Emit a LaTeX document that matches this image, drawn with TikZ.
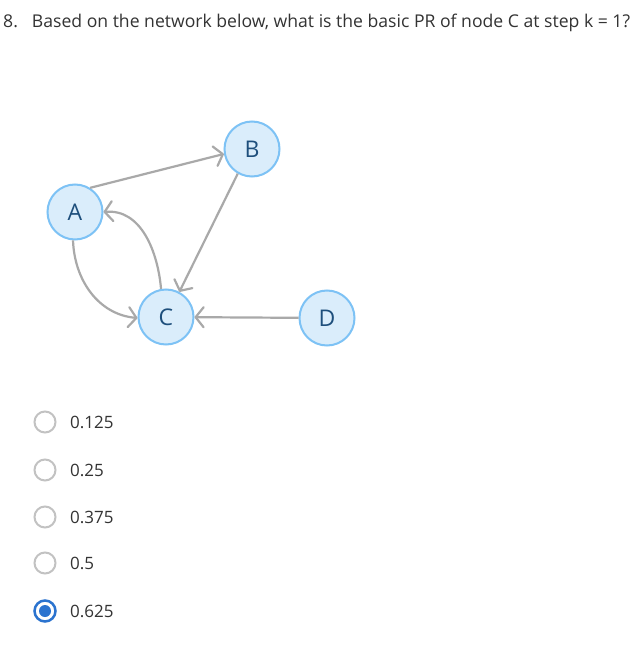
\documentclass[tikz,border=0pt]{standalone}
\usepackage{fontspec}
\setmainfont{Open Sans}
\usetikzlibrary{arrows.meta}
\definecolor{txt}{HTML}{333333}
\definecolor{edgegray}{HTML}{A9A9A9}
\definecolor{nodefill}{HTML}{DAEDFB}
\definecolor{nodeborder}{HTML}{7DC2F5}
\definecolor{nodetext}{HTML}{1E4F7C}
\definecolor{radiogray}{HTML}{C2C2C2}
\definecolor{radioblue}{HTML}{2B73CF}
\begin{document}
\begin{tikzpicture}[x=1pt,y=1pt,
  gnode/.style={circle,draw=nodeborder,fill=nodefill,line width=2pt,minimum size=55pt,inner sep=0pt,text=nodetext,font=\fontsize{23}{23}\selectfont},
  gedge/.style={draw=edgegray,line width=2.2pt,-{Straight Barb[length=8pt,width=20pt,round]}},
  radio/.style={circle,draw=radiogray,line width=2pt,minimum size=21pt,inner sep=0pt},
  radiosel/.style={circle,draw=radioblue,line width=2.5pt,minimum size=21pt,inner sep=0pt},
  opt/.style={anchor=west,inner sep=0pt,text=txt,font=\fontsize{17}{17}\selectfont}]
\useasboundingbox (0,0) rectangle (642,-652);
\fill[white] (0,0) rectangle (642,-652);
\node[anchor=base west,inner sep=0pt,text=txt,font=\fontsize{17.6}{17.6}\selectfont] (q) at (3,-28) {8.\hspace{14pt}Based on the network below, what is the basic PR of node C at step k = 1?};
\node[gnode] (A) at (75,-212) {A};
\node[gnode] (B) at (252,-149) {B};
\node[gnode] (C) at (166,-317) {C};
\node[gnode] (D) at (327,-318) {D};
\draw[gedge] (A.58) -- (B.190);
\draw[gedge] (B.240) -- (C.62);
\draw[gedge] (D) -- (C);
\draw[gedge] (C.100) to[out=95,in=5] (A.0);
\draw[gedge] (A.266) to[out=-88,in=175] (C.182);
\node[radio] (r1) at (45,-422) {};
\node[radio] (r2) at (45,-470) {};
\node[radio] (r3) at (45,-517) {};
\node[radio] (r4) at (45,-563) {};
\node[radiosel] (r5) at (45,-611) {};
\fill[radioblue] (r5.center) circle (6pt);
\node[opt] (o1) at (70,-422) {0.125};
\node[opt] (o2) at (70,-470) {0.25};
\node[opt] (o3) at (70,-517) {0.375};
\node[opt] (o4) at (70,-563) {0.5};
\node[opt] (o5) at (70,-611) {0.625};
\end{tikzpicture}
\end{document}
